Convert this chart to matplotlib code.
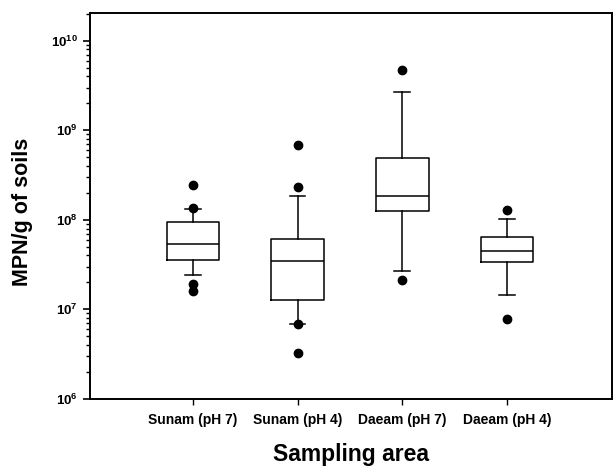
import numpy as np
import matplotlib.pyplot as plt
from matplotlib.ticker import LogLocator, FixedLocator, FixedFormatter, NullFormatter

plt.rcParams['font.family'] = ['Liberation Sans', 'DejaVu Sans']
plt.rcParams['mathtext.fontset'] = 'custom'
plt.rcParams['mathtext.bf'] = 'Liberation Sans:bold'
plt.rcParams['mathtext.rm'] = 'Liberation Sans:bold'

# Sampling areas and box statistics (MPN/g)
areas = ['Sunam (pH 7)', 'Sunam (pH 4)', 'Daeam (pH 7)', 'Daeam (pH 4)']
q1 = [3.53e7, 1.27e7, 1.26e8, 3.36e7]
med = [5.37e7, 3.44e7, 1.85e8, 4.45e7]
q3 = [9.57e7, 6.15e7, 4.92e8, 6.36e7]
whislo = [2.40e7, 6.93e6, 2.71e7, 1.44e7]
whishi = [1.32e8, 1.86e8, 2.67e9, 1.03e8]
fliers = [
    [2.45e8, 1.35e8, 1.94e7, 1.60e7],
    [6.81e8, 2.34e8, 6.93e6, 3.30e6],
    [4.72e9, 2.12e7],
    [1.29e8, 7.74e6],
]

ytick_vals = [1e6, 1e7, 1e8, 1e9, 1e10]
ytick_labels = [r'$\mathbf{10^{6}}$', r'$\mathbf{10^{7}}$', r'$\mathbf{10^{8}}$',
                r'$\mathbf{10^{9}}$', r'$\mathbf{10^{10}}$']

stats = []
for i in range(len(areas)):
    stats.append({'label': areas[i], 'q1': q1[i], 'med': med[i], 'q3': q3[i],
                  'whislo': whislo[i], 'whishi': whishi[i], 'fliers': fliers[i]})

fig = plt.figure(figsize=(6.14, 4.71), dpi=100)
ax = fig.add_axes([0.1466, 0.153, 0.850, 0.8195])

line = dict(color='black', linewidth=1.1)
ax.bxp(stats, positions=[1, 2, 3, 4], widths=0.5, showfliers=True,
       boxprops=line, medianprops=line, whiskerprops=line,
       capprops=line, capwidths=0.15,
       flierprops=dict(marker='o', markerfacecolor='black',
                       markeredgecolor='black', markersize=6))

ax.set_yscale('log')
ax.set_ylim(1e6, 10 ** 10.31)
ax.set_xlim(0.02, 5.0)

ax.yaxis.set_major_locator(FixedLocator(ytick_vals))
ax.yaxis.set_major_formatter(FixedFormatter(ytick_labels))
ax.yaxis.set_minor_locator(LogLocator(base=10, subs=np.arange(2, 10)))
ax.yaxis.set_minor_formatter(NullFormatter())
ax.set_xticks([1, 2, 3, 4])
ax.set_xticklabels(areas, fontsize=10, fontweight='bold')

ax.tick_params(axis='y', which='major', length=5, width=1.2, labelsize=9.5, pad=4)
ax.tick_params(axis='y', which='minor', length=3, width=1.0)
ax.tick_params(axis='x', length=4, width=1.0, pad=6)

for s in ax.spines.values():
    s.set_linewidth(1.4)

ax.set_ylabel('MPN/g of soils', fontsize=15.5, fontweight='bold')
ax.yaxis.set_label_coords(-0.11, 0.484)
ax.set_xlabel('Sampling area', fontsize=16.5, fontweight='bold', labelpad=12)

fig.savefig('out.png', dpi=100)
